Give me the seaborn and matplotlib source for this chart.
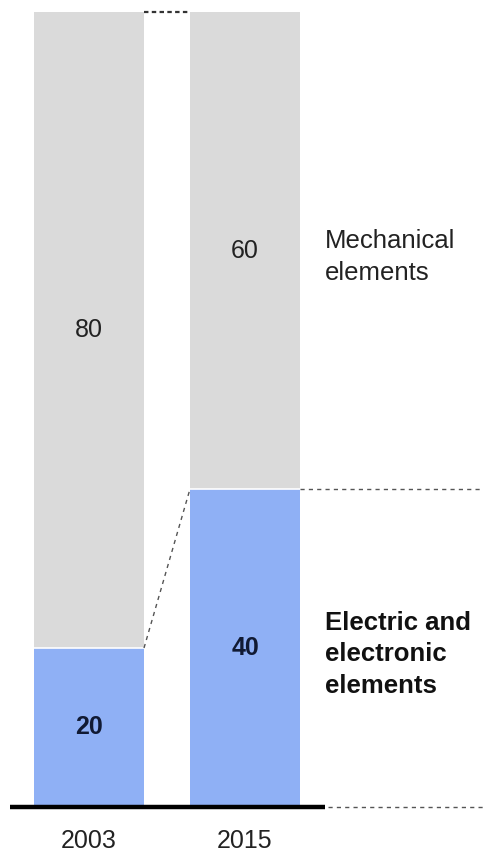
import matplotlib
matplotlib.use("Agg")
import matplotlib.pyplot as plt
import seaborn as sns
import pandas as pd

years = ["2003", "2015"]
electric = [20, 40]
mechanical = [80, 60]
series_labels = ["Mechanical\nelements", "Electric and\nelectronic\nelements"]

sns.set_theme(style="white")
plt.rcParams["font.family"] = ["Liberation Sans", "DejaVu Sans"]

W, H = 483, 859
fig = plt.figure(figsize=(W / 100, H / 100), dpi=100)
ax = fig.add_axes([0, 52 / H, 1, 795 / H])

gray = "#dadada"
blue = "#8fb0f5"
totals = [e + m for e, m in zip(electric, mechanical)]
df = pd.DataFrame({"year": years, "total": totals, "electric": electric,
                   "mechanical": mechanical})

bw = 110 / 156
sns.barplot(data=df, x="year", y="total", color=gray, width=bw, ax=ax,
            saturation=1, linewidth=0)
sns.barplot(data=df, x="year", y="electric", color=blue, width=bw, ax=ax,
            saturation=1, linewidth=0)
for i, e in enumerate(electric):
    ax.plot([i - bw / 2, i + bw / 2], [e, e], color="white", lw=1.2, zorder=3)

ax.set_xlim(-89 / 156, (W - 89) / 156)
ax.set_ylim(0, 100)
for s in ax.spines.values():
    s.set_visible(False)
ax.set_yticks([])
ax.set_xlabel("")
ax.set_ylabel("")
ax.tick_params(axis="x", length=0, pad=16, labelsize=18, labelcolor="#222222")

xl = (10 - 89) / 156
xr = (325 - 89) / 156
ax.plot([xl, xr], [0, 0], color="black", lw=3.2, solid_capstyle="butt",
        zorder=5, clip_on=False)
dash_kw = dict(color="#555555", lw=1.0, ls=(0, (3, 3)), clip_on=False, zorder=4)
ax.plot([xr + 0.02, (W - 89) / 156], [0, 0], **dash_kw)
ax.plot([1 + bw / 2, (W - 89) / 156], [totals[1] - mechanical[1]] * 2, **dash_kw)
ax.plot([bw / 2, 1 - bw / 2], [electric[0], electric[1]], **dash_kw)
ax.plot([bw / 2, 1 - bw / 2], [totals[0], totals[1]],
        color="#333333", lw=1.6, ls=(0, (2, 1.5)), clip_on=False, zorder=4)

for i in range(len(years)):
    ax.text(i, electric[i] + mechanical[i] / 2, str(mechanical[i]),
            ha="center", va="center", fontsize=18, color="#222222")
    ax.text(i, electric[i] / 2, str(electric[i]), ha="center", va="center",
            fontsize=18, fontweight="bold", color="#111a33")

ax.text(xr, electric[1] + mechanical[1] / 2 - 0.8, series_labels[0],
        ha="left", va="center", fontsize=18.5, color="#222222",
        linespacing=1.4, clip_on=False)
ax.text(xr, electric[1] / 2 - 0.8, series_labels[1], ha="left", va="center",
        fontsize=18.5, fontweight="bold", color="#111111", linespacing=1.4,
        clip_on=False)

fig.savefig("out.png", dpi=100)
